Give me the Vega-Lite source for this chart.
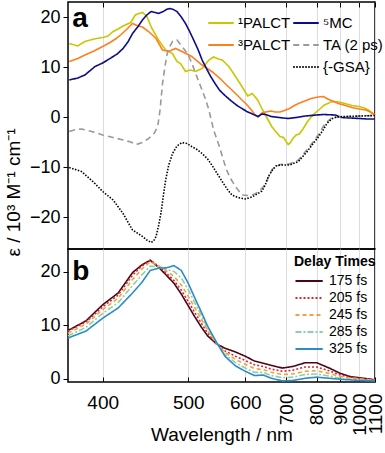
{
"$schema":"https://vega.github.io/schema/vega-lite/v6.json",
"padding":{"left":3,"top":0,"right":0,"bottom":0},
"bounds":"flush",
"spacing":0,
"resolve":{"scale":{"color":"independent","strokeDash":"independent"},"legend":{"color":"independent","strokeDash":"independent"}},
"config":{"font":"Liberation Sans","view":{"stroke":"black","strokeWidth":1.5},
"axis":{"labelFont":"Liberation Sans","titleFont":"Liberation Sans","labelColor":"black","titleColor":"black","labelFontSize":18,"titleFontSize":19,"titleFontWeight":"normal","domain":false,"tickColor":"black","gridColor":"#dcdce6","gridWidth":1},
"legend":{"labelFont":"Liberation Sans","titleFont":"Liberation Sans","labelColor":"black","titleColor":"black"}},
"datasets":{
"a":[
{"s":"¹PALCT","w":371,"v":14.7},{"s":"¹PALCT","w":378,"v":14.2},{"s":"¹PALCT","w":384,"v":15.1},{"s":"¹PALCT","w":392,"v":15.6},{"s":"¹PALCT","w":400,"v":15.9},{"s":"¹PALCT","w":405,"v":16.2},{"s":"¹PALCT","w":410,"v":17.1},{"s":"¹PALCT","w":415,"v":17.6},{"s":"¹PALCT","w":420,"v":18.2},{"s":"¹PALCT","w":428,"v":18.9},{"s":"¹PALCT","w":433,"v":20.4},{"s":"¹PALCT","w":437,"v":20.7},{"s":"¹PALCT","w":441,"v":20.9},{"s":"¹PALCT","w":446,"v":20.1},{"s":"¹PALCT","w":452,"v":17.7},{"s":"¹PALCT","w":460,"v":15.4},{"s":"¹PALCT","w":469,"v":13.4},{"s":"¹PALCT","w":478,"v":12.7},{"s":"¹PALCT","w":484,"v":11.1},{"s":"¹PALCT","w":489,"v":10.7},{"s":"¹PALCT","w":496,"v":9.1},{"s":"¹PALCT","w":503,"v":9.4},{"s":"¹PALCT","w":511,"v":9.1},{"s":"¹PALCT","w":521,"v":9.7},{"s":"¹PALCT","w":532,"v":11.4},{"s":"¹PALCT","w":540,"v":12.0},{"s":"¹PALCT","w":548,"v":11.6},{"s":"¹PALCT","w":555,"v":11.4},{"s":"¹PALCT","w":568,"v":10.0},{"s":"¹PALCT","w":580,"v":8.1},{"s":"¹PALCT","w":593,"v":6.1},{"s":"¹PALCT","w":605,"v":4.2},{"s":"¹PALCT","w":615,"v":4.7},{"s":"¹PALCT","w":627,"v":3.4},{"s":"¹PALCT","w":638,"v":1.5},{"s":"¹PALCT","w":648,"v":0.0},{"s":"¹PALCT","w":662,"v":-2.0},{"s":"¹PALCT","w":675,"v":-3.2},{"s":"¹PALCT","w":683,"v":-3.9},{"s":"¹PALCT","w":693,"v":-4.1},{"s":"¹PALCT","w":700,"v":-4.9},{"s":"¹PALCT","w":706,"v":-5.5},{"s":"¹PALCT","w":712,"v":-5.2},{"s":"¹PALCT","w":720,"v":-4.3},{"s":"¹PALCT","w":730,"v":-3.6},{"s":"¹PALCT","w":740,"v":-3.4},{"s":"¹PALCT","w":752,"v":-2.4},{"s":"¹PALCT","w":766,"v":-1.0},{"s":"¹PALCT","w":788,"v":0.5},{"s":"¹PALCT","w":810,"v":1.5},{"s":"¹PALCT","w":830,"v":2.4},{"s":"¹PALCT","w":862,"v":3.1},{"s":"¹PALCT","w":893,"v":3.0},{"s":"¹PALCT","w":922,"v":2.7},{"s":"¹PALCT","w":958,"v":2.3},{"s":"¹PALCT","w":998,"v":2.1},{"s":"¹PALCT","w":1030,"v":1.8},{"s":"¹PALCT","w":1060,"v":1.3},{"s":"¹PALCT","w":1085,"v":0.6},{"s":"¹PALCT","w":1100,"v":0.3},
{"s":"³PALCT","w":371,"v":11.1},{"s":"³PALCT","w":378,"v":11.7},{"s":"³PALCT","w":384,"v":12.4},{"s":"³PALCT","w":392,"v":13.2},{"s":"³PALCT","w":400,"v":14.1},{"s":"³PALCT","w":407,"v":14.9},{"s":"³PALCT","w":413,"v":15.7},{"s":"³PALCT","w":418,"v":16.5},{"s":"³PALCT","w":423,"v":17.4},{"s":"³PALCT","w":430,"v":18.7},{"s":"³PALCT","w":436,"v":18.2},{"s":"³PALCT","w":441,"v":18.0},{"s":"³PALCT","w":448,"v":17.1},{"s":"³PALCT","w":457,"v":15.7},{"s":"³PALCT","w":465,"v":13.4},{"s":"³PALCT","w":473,"v":13.1},{"s":"³PALCT","w":482,"v":13.7},{"s":"³PALCT","w":491,"v":13.1},{"s":"³PALCT","w":505,"v":12.1},{"s":"³PALCT","w":521,"v":10.4},{"s":"³PALCT","w":538,"v":9.0},{"s":"³PALCT","w":552,"v":7.6},{"s":"³PALCT","w":563,"v":6.4},{"s":"³PALCT","w":573,"v":5.4},{"s":"³PALCT","w":583,"v":4.4},{"s":"³PALCT","w":593,"v":3.4},{"s":"³PALCT","w":603,"v":2.5},{"s":"³PALCT","w":613,"v":1.4},{"s":"³PALCT","w":620,"v":0.6},{"s":"³PALCT","w":628,"v":0.0},{"s":"³PALCT","w":637,"v":0.8},{"s":"³PALCT","w":646,"v":1.0},{"s":"³PALCT","w":660,"v":1.2},{"s":"³PALCT","w":670,"v":1.0},{"s":"³PALCT","w":683,"v":1.0},{"s":"³PALCT","w":695,"v":1.3},{"s":"³PALCT","w":710,"v":1.7},{"s":"³PALCT","w":722,"v":2.2},{"s":"³PALCT","w":737,"v":2.7},{"s":"³PALCT","w":758,"v":3.2},{"s":"³PALCT","w":780,"v":3.7},{"s":"³PALCT","w":805,"v":4.0},{"s":"³PALCT","w":826,"v":4.1},{"s":"³PALCT","w":848,"v":3.5},{"s":"³PALCT","w":870,"v":3.1},{"s":"³PALCT","w":890,"v":2.7},{"s":"³PALCT","w":925,"v":2.3},{"s":"³PALCT","w":958,"v":1.9},{"s":"³PALCT","w":1000,"v":1.6},{"s":"³PALCT","w":1040,"v":1.4},{"s":"³PALCT","w":1075,"v":0.9},{"s":"³PALCT","w":1100,"v":0.4},
{"s":"⁵MC","w":371,"v":7.4},{"s":"⁵MC","w":378,"v":7.8},{"s":"⁵MC","w":384,"v":8.4},{"s":"⁵MC","w":393,"v":10.1},{"s":"⁵MC","w":400,"v":10.8},{"s":"⁵MC","w":407,"v":11.7},{"s":"⁵MC","w":414,"v":12.6},{"s":"⁵MC","w":420,"v":13.7},{"s":"⁵MC","w":425,"v":15.0},{"s":"⁵MC","w":430,"v":16.7},{"s":"⁵MC","w":436,"v":18.1},{"s":"⁵MC","w":441,"v":19.4},{"s":"⁵MC","w":446,"v":20.4},{"s":"⁵MC","w":451,"v":21.1},{"s":"⁵MC","w":456,"v":20.9},{"s":"⁵MC","w":460,"v":20.7},{"s":"⁵MC","w":466,"v":21.1},{"s":"⁵MC","w":470,"v":21.5},{"s":"⁵MC","w":474,"v":21.7},{"s":"⁵MC","w":479,"v":21.5},{"s":"⁵MC","w":484,"v":21.1},{"s":"⁵MC","w":490,"v":20.0},{"s":"⁵MC","w":496,"v":18.7},{"s":"⁵MC","w":502,"v":17.1},{"s":"⁵MC","w":508,"v":15.4},{"s":"⁵MC","w":515,"v":13.4},{"s":"⁵MC","w":521,"v":11.4},{"s":"⁵MC","w":528,"v":9.7},{"s":"⁵MC","w":535,"v":8.1},{"s":"⁵MC","w":543,"v":6.6},{"s":"⁵MC","w":550,"v":5.4},{"s":"⁵MC","w":560,"v":4.3},{"s":"⁵MC","w":573,"v":3.1},{"s":"⁵MC","w":583,"v":2.3},{"s":"⁵MC","w":593,"v":1.7},{"s":"⁵MC","w":603,"v":1.1},{"s":"⁵MC","w":613,"v":0.7},{"s":"⁵MC","w":620,"v":0.4},{"s":"⁵MC","w":628,"v":0.1},{"s":"⁵MC","w":637,"v":0.6},{"s":"⁵MC","w":646,"v":0.5},{"s":"⁵MC","w":660,"v":0.1},{"s":"⁵MC","w":680,"v":-0.1},{"s":"⁵MC","w":706,"v":-0.3},{"s":"⁵MC","w":730,"v":-0.1},{"s":"⁵MC","w":760,"v":0.2},{"s":"⁵MC","w":800,"v":0.4},{"s":"⁵MC","w":826,"v":0.5},{"s":"⁵MC","w":876,"v":0.4},{"s":"⁵MC","w":905,"v":-0.1},{"s":"⁵MC","w":950,"v":-0.2},{"s":"⁵MC","w":1000,"v":-0.3},{"s":"⁵MC","w":1050,"v":-0.4},{"s":"⁵MC","w":1100,"v":-0.4},
{"s":"TA (2 ps)","w":371,"v":-2.9},{"s":"TA (2 ps)","w":376,"v":-2.5},{"s":"TA (2 ps)","w":381,"v":-2.4},{"s":"TA (2 ps)","w":390,"v":-2.9},{"s":"TA (2 ps)","w":400,"v":-3.6},{"s":"TA (2 ps)","w":410,"v":-4.1},{"s":"TA (2 ps)","w":420,"v":-4.6},{"s":"TA (2 ps)","w":428,"v":-5.0},{"s":"TA (2 ps)","w":434,"v":-5.5},{"s":"TA (2 ps)","w":441,"v":-5.1},{"s":"TA (2 ps)","w":448,"v":-4.3},{"s":"TA (2 ps)","w":455,"v":-3.2},{"s":"TA (2 ps)","w":459,"v":-1.9},{"s":"TA (2 ps)","w":462,"v":1.5},{"s":"TA (2 ps)","w":465,"v":6.7},{"s":"TA (2 ps)","w":468,"v":10.0},{"s":"TA (2 ps)","w":471,"v":12.7},{"s":"TA (2 ps)","w":475,"v":14.3},{"s":"TA (2 ps)","w":478,"v":15.1},{"s":"TA (2 ps)","w":484,"v":15.4},{"s":"TA (2 ps)","w":491,"v":14.1},{"s":"TA (2 ps)","w":496,"v":13.2},{"s":"TA (2 ps)","w":501,"v":12.1},{"s":"TA (2 ps)","w":506,"v":10.5},{"s":"TA (2 ps)","w":511,"v":8.7},{"s":"TA (2 ps)","w":516,"v":7.0},{"s":"TA (2 ps)","w":521,"v":5.4},{"s":"TA (2 ps)","w":527,"v":3.4},{"s":"TA (2 ps)","w":532,"v":1.4},{"s":"TA (2 ps)","w":540,"v":-2.6},{"s":"TA (2 ps)","w":545,"v":-4.3},{"s":"TA (2 ps)","w":550,"v":-5.9},{"s":"TA (2 ps)","w":556,"v":-8.2},{"s":"TA (2 ps)","w":563,"v":-10.6},{"s":"TA (2 ps)","w":571,"v":-12.4},{"s":"TA (2 ps)","w":580,"v":-13.9},{"s":"TA (2 ps)","w":593,"v":-15.6},{"s":"TA (2 ps)","w":608,"v":-15.7},{"s":"TA (2 ps)","w":620,"v":-15.4},{"s":"TA (2 ps)","w":628,"v":-15.0},{"s":"TA (2 ps)","w":640,"v":-14.0},{"s":"TA (2 ps)","w":650,"v":-12.6},{"s":"TA (2 ps)","w":663,"v":-10.4},{"s":"TA (2 ps)","w":683,"v":-9.5},{"s":"TA (2 ps)","w":710,"v":-9.4},{"s":"TA (2 ps)","w":737,"v":-8.6},{"s":"TA (2 ps)","w":766,"v":-6.5},{"s":"TA (2 ps)","w":790,"v":-4.8},{"s":"TA (2 ps)","w":808,"v":-3.4},{"s":"TA (2 ps)","w":833,"v":-1.3},{"s":"TA (2 ps)","w":860,"v":-0.2},{"s":"TA (2 ps)","w":890,"v":0.0},{"s":"TA (2 ps)","w":950,"v":0.1},{"s":"TA (2 ps)","w":1000,"v":0.2},{"s":"TA (2 ps)","w":1100,"v":0.3},
{"s":"{-GSA}","w":371,"v":-10.1},{"s":"{-GSA}","w":381,"v":-10.9},{"s":"{-GSA}","w":391,"v":-12.9},{"s":"{-GSA}","w":400,"v":-14.9},{"s":"{-GSA}","w":410,"v":-16.6},{"s":"{-GSA}","w":420,"v":-19.3},{"s":"{-GSA}","w":425,"v":-21.0},{"s":"{-GSA}","w":430,"v":-22.6},{"s":"{-GSA}","w":436,"v":-23.3},{"s":"{-GSA}","w":441,"v":-23.9},{"s":"{-GSA}","w":446,"v":-24.6},{"s":"{-GSA}","w":451,"v":-25.1},{"s":"{-GSA}","w":454,"v":-24.8},{"s":"{-GSA}","w":457,"v":-23.9},{"s":"{-GSA}","w":460,"v":-21.8},{"s":"{-GSA}","w":463,"v":-19.3},{"s":"{-GSA}","w":466,"v":-15.8},{"s":"{-GSA}","w":469,"v":-12.6},{"s":"{-GSA}","w":473,"v":-9.6},{"s":"{-GSA}","w":478,"v":-7.3},{"s":"{-GSA}","w":484,"v":-5.8},{"s":"{-GSA}","w":491,"v":-5.1},{"s":"{-GSA}","w":498,"v":-5.3},{"s":"{-GSA}","w":505,"v":-5.9},{"s":"{-GSA}","w":513,"v":-6.5},{"s":"{-GSA}","w":521,"v":-7.3},{"s":"{-GSA}","w":530,"v":-8.4},{"s":"{-GSA}","w":538,"v":-9.8},{"s":"{-GSA}","w":546,"v":-11.3},{"s":"{-GSA}","w":555,"v":-12.9},{"s":"{-GSA}","w":564,"v":-14.4},{"s":"{-GSA}","w":573,"v":-15.6},{"s":"{-GSA}","w":585,"v":-16.1},{"s":"{-GSA}","w":600,"v":-16.4},{"s":"{-GSA}","w":614,"v":-16.0},{"s":"{-GSA}","w":628,"v":-15.3},{"s":"{-GSA}","w":637,"v":-14.8},{"s":"{-GSA}","w":645,"v":-13.6},{"s":"{-GSA}","w":652,"v":-12.0},{"s":"{-GSA}","w":663,"v":-10.6},{"s":"{-GSA}","w":672,"v":-9.8},{"s":"{-GSA}","w":683,"v":-9.6},{"s":"{-GSA}","w":710,"v":-9.6},{"s":"{-GSA}","w":737,"v":-8.9},{"s":"{-GSA}","w":766,"v":-6.9},{"s":"{-GSA}","w":790,"v":-5.1},{"s":"{-GSA}","w":808,"v":-3.9},{"s":"{-GSA}","w":825,"v":-2.6},{"s":"{-GSA}","w":840,"v":-1.3},{"s":"{-GSA}","w":860,"v":-0.4},{"s":"{-GSA}","w":880,"v":0.0},{"s":"{-GSA}","w":920,"v":0.1},{"s":"{-GSA}","w":1000,"v":0.2},{"s":"{-GSA}","w":1100,"v":0.3}
],
"b":[
{"s":"175 fs","w":370,"v":9.0},{"s":"175 fs","w":385,"v":10.8},{"s":"175 fs","w":400,"v":13.8},{"s":"175 fs","w":415,"v":16.0},{"s":"175 fs","w":430,"v":19.8},{"s":"175 fs","w":440,"v":21.2},{"s":"175 fs","w":450,"v":22.1},{"s":"175 fs","w":460,"v":20.8},{"s":"175 fs","w":470,"v":19.3},{"s":"175 fs","w":480,"v":17.8},{"s":"175 fs","w":490,"v":15.8},{"s":"175 fs","w":500,"v":13.6},{"s":"175 fs","w":510,"v":11.5},{"s":"175 fs","w":520,"v":9.6},{"s":"175 fs","w":530,"v":8.0},{"s":"175 fs","w":545,"v":6.5},{"s":"175 fs","w":560,"v":5.7},{"s":"175 fs","w":580,"v":5.0},{"s":"175 fs","w":600,"v":4.2},{"s":"175 fs","w":620,"v":3.3},{"s":"175 fs","w":640,"v":2.9},{"s":"175 fs","w":660,"v":2.5},{"s":"175 fs","w":690,"v":2.0},{"s":"175 fs","w":720,"v":2.3},{"s":"175 fs","w":760,"v":3.0},{"s":"175 fs","w":800,"v":3.0},{"s":"175 fs","w":850,"v":2.0},{"s":"175 fs","w":900,"v":1.0},{"s":"175 fs","w":950,"v":0.4},{"s":"175 fs","w":1000,"v":0.2},{"s":"175 fs","w":1100,"v":-0.2},
{"s":"205 fs","w":370,"v":8.9},{"s":"205 fs","w":385,"v":10.6},{"s":"205 fs","w":400,"v":13.4},{"s":"205 fs","w":415,"v":15.6},{"s":"205 fs","w":430,"v":19.3},{"s":"205 fs","w":440,"v":21.0},{"s":"205 fs","w":450,"v":22.1},{"s":"205 fs","w":460,"v":21.0},{"s":"205 fs","w":470,"v":19.7},{"s":"205 fs","w":480,"v":18.3},{"s":"205 fs","w":490,"v":16.5},{"s":"205 fs","w":500,"v":14.4},{"s":"205 fs","w":510,"v":12.3},{"s":"205 fs","w":520,"v":10.3},{"s":"205 fs","w":530,"v":8.5},{"s":"205 fs","w":545,"v":6.5},{"s":"205 fs","w":560,"v":5.2},{"s":"205 fs","w":580,"v":4.2},{"s":"205 fs","w":600,"v":3.4},{"s":"205 fs","w":620,"v":2.6},{"s":"205 fs","w":640,"v":2.3},{"s":"205 fs","w":660,"v":1.8},{"s":"205 fs","w":690,"v":1.4},{"s":"205 fs","w":720,"v":1.6},{"s":"205 fs","w":760,"v":2.2},{"s":"205 fs","w":800,"v":2.2},{"s":"205 fs","w":850,"v":1.5},{"s":"205 fs","w":900,"v":0.7},{"s":"205 fs","w":950,"v":0.3},{"s":"205 fs","w":1000,"v":0.1},{"s":"205 fs","w":1100,"v":-0.2},
{"s":"245 fs","w":370,"v":8.5},{"s":"245 fs","w":385,"v":10.2},{"s":"245 fs","w":400,"v":12.9},{"s":"245 fs","w":415,"v":15.0},{"s":"245 fs","w":430,"v":18.5},{"s":"245 fs","w":440,"v":20.4},{"s":"245 fs","w":450,"v":21.8},{"s":"245 fs","w":460,"v":21.1},{"s":"245 fs","w":470,"v":20.1},{"s":"245 fs","w":480,"v":19.1},{"s":"245 fs","w":490,"v":17.5},{"s":"245 fs","w":500,"v":15.4},{"s":"245 fs","w":510,"v":13.2},{"s":"245 fs","w":520,"v":11.1},{"s":"245 fs","w":530,"v":9.0},{"s":"245 fs","w":545,"v":6.6},{"s":"245 fs","w":560,"v":4.9},{"s":"245 fs","w":580,"v":3.6},{"s":"245 fs","w":600,"v":2.7},{"s":"245 fs","w":620,"v":1.9},{"s":"245 fs","w":640,"v":1.7},{"s":"245 fs","w":660,"v":1.2},{"s":"245 fs","w":690,"v":0.8},{"s":"245 fs","w":720,"v":0.9},{"s":"245 fs","w":760,"v":1.4},{"s":"245 fs","w":800,"v":1.5},{"s":"245 fs","w":850,"v":1.0},{"s":"245 fs","w":900,"v":0.4},{"s":"245 fs","w":950,"v":0.1},{"s":"245 fs","w":1000,"v":0.0},{"s":"245 fs","w":1100,"v":-0.3},
{"s":"285 fs","w":370,"v":8.0},{"s":"285 fs","w":385,"v":9.6},{"s":"285 fs","w":400,"v":12.2},{"s":"285 fs","w":415,"v":14.2},{"s":"285 fs","w":430,"v":17.4},{"s":"285 fs","w":440,"v":19.3},{"s":"285 fs","w":450,"v":21.0},{"s":"285 fs","w":460,"v":20.9},{"s":"285 fs","w":470,"v":20.4},{"s":"285 fs","w":480,"v":20.0},{"s":"285 fs","w":490,"v":18.8},{"s":"285 fs","w":500,"v":16.6},{"s":"285 fs","w":510,"v":14.1},{"s":"285 fs","w":520,"v":11.8},{"s":"285 fs","w":530,"v":9.4},{"s":"285 fs","w":545,"v":6.7},{"s":"285 fs","w":560,"v":4.5},{"s":"285 fs","w":580,"v":3.0},{"s":"285 fs","w":600,"v":2.0},{"s":"285 fs","w":620,"v":1.2},{"s":"285 fs","w":640,"v":1.2},{"s":"285 fs","w":660,"v":0.6},{"s":"285 fs","w":690,"v":0.2},{"s":"285 fs","w":720,"v":0.3},{"s":"285 fs","w":760,"v":0.8},{"s":"285 fs","w":800,"v":0.9},{"s":"285 fs","w":850,"v":0.5},{"s":"285 fs","w":900,"v":0.1},{"s":"285 fs","w":950,"v":-0.1},{"s":"285 fs","w":1000,"v":-0.2},{"s":"285 fs","w":1100,"v":-0.3},
{"s":"325 fs","w":370,"v":7.6},{"s":"325 fs","w":385,"v":8.9},{"s":"325 fs","w":400,"v":11.3},{"s":"325 fs","w":415,"v":13.2},{"s":"325 fs","w":430,"v":16.0},{"s":"325 fs","w":440,"v":17.9},{"s":"325 fs","w":450,"v":20.2},{"s":"325 fs","w":460,"v":20.6},{"s":"325 fs","w":470,"v":20.7},{"s":"325 fs","w":480,"v":21.1},{"s":"325 fs","w":490,"v":20.2},{"s":"325 fs","w":500,"v":17.8},{"s":"325 fs","w":510,"v":15.0},{"s":"325 fs","w":520,"v":12.4},{"s":"325 fs","w":530,"v":9.8},{"s":"325 fs","w":545,"v":6.8},{"s":"325 fs","w":560,"v":4.2},{"s":"325 fs","w":580,"v":2.4},{"s":"325 fs","w":600,"v":1.4},{"s":"325 fs","w":620,"v":0.6},{"s":"325 fs","w":640,"v":0.7},{"s":"325 fs","w":660,"v":0.1},{"s":"325 fs","w":690,"v":-0.4},{"s":"325 fs","w":720,"v":-0.3},{"s":"325 fs","w":760,"v":0.1},{"s":"325 fs","w":800,"v":0.3},{"s":"325 fs","w":850,"v":0.1},{"s":"325 fs","w":900,"v":-0.1},{"s":"325 fs","w":950,"v":-0.2},{"s":"325 fs","w":1000,"v":-0.3},{"s":"325 fs","w":1100,"v":-0.4}
]},
"vconcat":[
{"width":307,"height":247,
"layer":[
{"data":{"name":"a"},"transform":[{"filter":{"field":"s","oneOf":["¹PALCT","³PALCT"]}}],
 "mark":{"type":"line","strokeWidth":1.6},
 "encoding":{
  "x":{"field":"w","type":"quantitative","scale":{"type":"pow","exponent":-1,"domain":[370,1100],"nice":false,"zero":false},
   "axis":{"orient":"top","values":[400,450,500,550,600,650,700,750,800,850,900,950,1000,1050,1100],"labels":false,"title":null,"grid":true,"tickSize":-5,
    "gridOpacity":{"condition":{"test":"datum.value % 100 != 0","value":0},"value":1}}},
  "y":{"field":"v","type":"quantitative","scale":{"domain":[-26.4,23],"nice":false,"zero":false},
   "axis":{"values":[-20,-10,0,10,20],"labels":true,"labelOverlap":false,"title":"ε / 10³ M⁻¹ cm⁻¹","titleY":190,"titlePadding":6,"grid":false,"tickSize":5,"labelPadding":3}},
  "color":{"field":"s","type":"nominal","scale":{"domain":["¹PALCT","³PALCT"],"range":["#c8c800","#ff7f1e"]},
   "legend":{"orient":"none","legendX":139,"legendY":7,"title":null,"symbolType":"stroke","symbolSize":650,"symbolStrokeWidth":2,"labelFontSize":15,"rowPadding":-5,"labelOffset":3}}}},
{"data":{"name":"a"},"transform":[{"filter":{"field":"s","oneOf":["⁵MC","TA (2 ps)","{-GSA}"]}}],
 "mark":{"type":"line","strokeWidth":1.6},
 "encoding":{
  "x":{"field":"w","type":"quantitative"},
  "y":{"field":"v","type":"quantitative"},
  "color":{"field":"s","type":"nominal","scale":{"domain":["⁵MC","TA (2 ps)","{-GSA}"],"range":["#0c0c8a","#9a9a9a","#000000"]},
   "legend":{"orient":"none","legendX":224,"legendY":7,"title":null,"symbolType":"stroke","symbolSize":650,"symbolStrokeWidth":2,"labelFontSize":15,"rowPadding":-5,"labelOffset":3}},
  "strokeDash":{"field":"s","type":"nominal","scale":{"domain":["⁵MC","TA (2 ps)","{-GSA}"],"range":[[1,0],[6,4],[1.5,1.5]]}}}},
{"mark":{"type":"rule","color":"#8a8aa0","strokeDash":[1.5,1.5],"strokeWidth":1},
 "encoding":{"y":{"datum":0,"type":"quantitative"}}},
{"data":{"values":[{}]},
 "mark":{"type":"text","text":"a","fontSize":28,"fontWeight":"bold","align":"left","baseline":"alphabetic","color":"black","font":"Liberation Sans"},
 "encoding":{"x":{"datum":373.5,"type":"quantitative"},"y":{"datum":18,"type":"quantitative"}}}
],
"resolve":{"scale":{"color":"independent","strokeDash":"independent"}}},
{"width":307,"height":133,
"layer":[
{"data":{"name":"b"},
 "mark":{"type":"line","strokeWidth":1.6},
 "encoding":{
  "x":{"field":"w","type":"quantitative","title":"Wavelength / nm","scale":{"type":"pow","exponent":-1,"domain":[370,1100],"nice":false,"zero":false},
   "axis":{"values":[400,500,600,700,800,900,1000,1100],"format":"d","grid":true,"tickSize":-5,"labelPadding":16,"labelFontSize":19,"labelOverlap":false,"labelBound":false,"titlePadding":-10,
    "labelAngle":{"expr":"datum.value >= 700 ? 270 : 0"},
    "labelAlign":{"condition":{"test":"datum.value >= 700","value":"right"},"value":"center"},
    "labelBaseline":{"condition":{"test":"datum.value >= 700","value":"middle"},"value":"top"}}},
  "y":{"field":"v","type":"quantitative","scale":{"domain":[-0.6,24.2],"nice":false,"zero":false},
   "axis":{"values":[0,5,10,15,20],"labelOverlap":false,"title":null,"grid":false,"tickSize":5,"labelPadding":3,
    "labelOpacity":{"condition":{"test":"datum.value % 10 != 0","value":0},"value":1}}},
  "color":{"field":"s","type":"nominal","scale":{"domain":["175 fs","205 fs","245 fs","285 fs","325 fs"],"range":["#4a0618","#e0262a","#f5a040","#8fd0a4","#2e8bc6"]},
   "legend":{"orient":"none","legendX":226,"legendY":6,"title":"Delay Times","titleFontSize":14,"titleFontWeight":"bold","titlePadding":2,"symbolType":"M-1,0H2.2","symbolSize":290,"symbolStrokeWidth":2,"labelFontSize":14,"rowPadding":0,"labelOffset":15}},
  "strokeDash":{"field":"s","type":"nominal","scale":{"domain":["175 fs","205 fs","245 fs","285 fs","325 fs"],"range":[[1,0],[2,2],[4,3],[6,2,2,2],[1,0]]}}}},
{"mark":{"type":"rule","color":"#8a8aa0","strokeDash":[1.5,1.5],"strokeWidth":1},
 "encoding":{"y":{"datum":0,"type":"quantitative"}}},
{"data":{"values":[{}]},
 "mark":{"type":"text","text":"b","fontSize":28,"fontWeight":"bold","align":"left","baseline":"alphabetic","color":"black","font":"Liberation Sans"},
 "encoding":{"x":{"datum":373.5,"type":"quantitative"},"y":{"datum":18.4,"type":"quantitative"}}}
]}
]
}
